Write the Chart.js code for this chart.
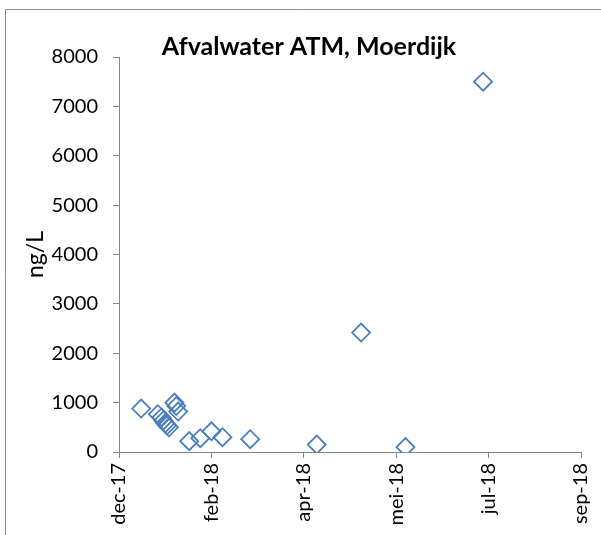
<!DOCTYPE html>
<html>
<head>
<meta charset="utf-8">
<script src="https://cdn.jsdelivr.net/npm/chart.js@4.4.1/dist/chart.umd.min.js"></script>
<style>
  html, body { margin: 0; padding: 0; background: #fff; }
  #wrap { width: 601px; height: 535px; position: relative; }
</style>
</head>
<body>
<div id="wrap"><canvas id="chart" width="601" height="535"></canvas></div>
<script>
// sample dates and measured concentration (ng/L)
const sampleDates = ['2018-01-08', '2018-01-17', '2018-01-19', '2018-01-20', '2018-01-21', '2018-01-22',
  '2018-01-23', '2018-01-26', '2018-01-27', '2018-01-28', '2018-02-03', '2018-02-09', '2018-02-15',
  '2018-02-21', '2018-03-08', '2018-04-13', '2018-05-07', '2018-05-31', '2018-07-12'];
const concentrations = [880, 765, 700, 640, 580, 540, 500, 1000, 930, 820, 220, 280, 420, 300, 260,
  150, 2420, 100, 7500];

// x axis as in the Excel sheet: starts at 27 dec 2017, a tick every 50 days
const axisStart = '2017-12-27';
const dayStep = 50;
const xTickLabels = ['dec-17', 'feb-18', 'apr-18', 'mei-18', 'jul-18', 'sep-18'];
const yMax = 8000;
const yStep = 1000;

const chartTitle = 'Afvalwater ATM, Moerdijk';
const yTitle = 'ng/L';

const DAY = 24 * 3600 * 1000;
function dayOffset(d) {
  return (Date.parse(d) - Date.parse(axisStart)) / DAY;
}
const points = sampleDates.map((d, i) => ({ x: dayOffset(d), y: concentrations[i] }));

const axisColor = '#868686';
const fontFam = 'Lato, "Open Sans", sans-serif';

// frame + title drawn over the plot like in Excel
const decorPlugin = {
  id: 'decor',
  beforeDraw(chart) {
    const c = chart.ctx;
    c.save();
    c.strokeStyle = '#8c8c8c';
    c.lineWidth = 1;
    c.beginPath();
    c.moveTo(5.5, 600);
    c.lineTo(5.5, 9.5);
    c.lineTo(700, 9.5);
    c.stroke();
    c.restore();
  },
  afterDraw(chart) {
    const c = chart.ctx;
    c.save();
    c.fillStyle = '#000';
    c.font = 'bold 25px ' + fontFam;
    c.textAlign = 'center';
    c.textBaseline = 'alphabetic';
    c.fillText(chartTitle, 309, 55);
    c.restore();
  }
};

new Chart(document.getElementById('chart'), {
  type: 'scatter',
  data: {
    datasets: [{
      data: points,
      pointStyle: 'rectRot',
      pointRadius: 9,
      pointHoverRadius: 9,
      borderColor: '#4a7ebb',
      backgroundColor: 'rgba(0,0,0,0)',
      pointBorderWidth: 1.8,
      showLine: false
    }]
  },
  options: {
    responsive: false,
    animation: false,
    layout: { padding: { left: 22, right: 20, top: 57, bottom: 0 } },
    plugins: {
      legend: { display: false },
      tooltip: { enabled: false },
      title: { display: false }
    },
    scales: {
      x: {
        type: 'linear',
        min: 0,
        max: dayStep * (xTickLabels.length - 1),
        afterFit: (s) => { s.height = 83; s.paddingRight = 0; s.paddingLeft = 0; },
        ticks: {
          stepSize: dayStep,
          minRotation: 90,
          maxRotation: 90,
          padding: 5,
          color: '#000',
          font: { family: fontFam, size: 20 },
          callback: (v) => xTickLabels[Math.round(v / dayStep)]
        },
        grid: { drawOnChartArea: false, drawTicks: true, tickLength: 6, color: axisColor },
        border: { color: axisColor, width: 1 }
      },
      y: {
        min: 0,
        max: yMax,
        afterFit: (s) => { s.width = 97; },
        ticks: {
          stepSize: yStep,
          padding: 15,
          color: '#000',
          font: { family: fontFam, size: 20 },
          callback: (v) => String(v)
        },
        grid: { drawOnChartArea: false, drawTicks: true, tickLength: 6, color: axisColor },
        border: { color: axisColor, width: 1 },
        title: {
          display: true,
          text: yTitle,
          color: '#000',
          font: { family: fontFam, size: 23 },
          padding: 0
        }
      }
    }
  },
  plugins: [decorPlugin]
});
</script>
</body>
</html>
